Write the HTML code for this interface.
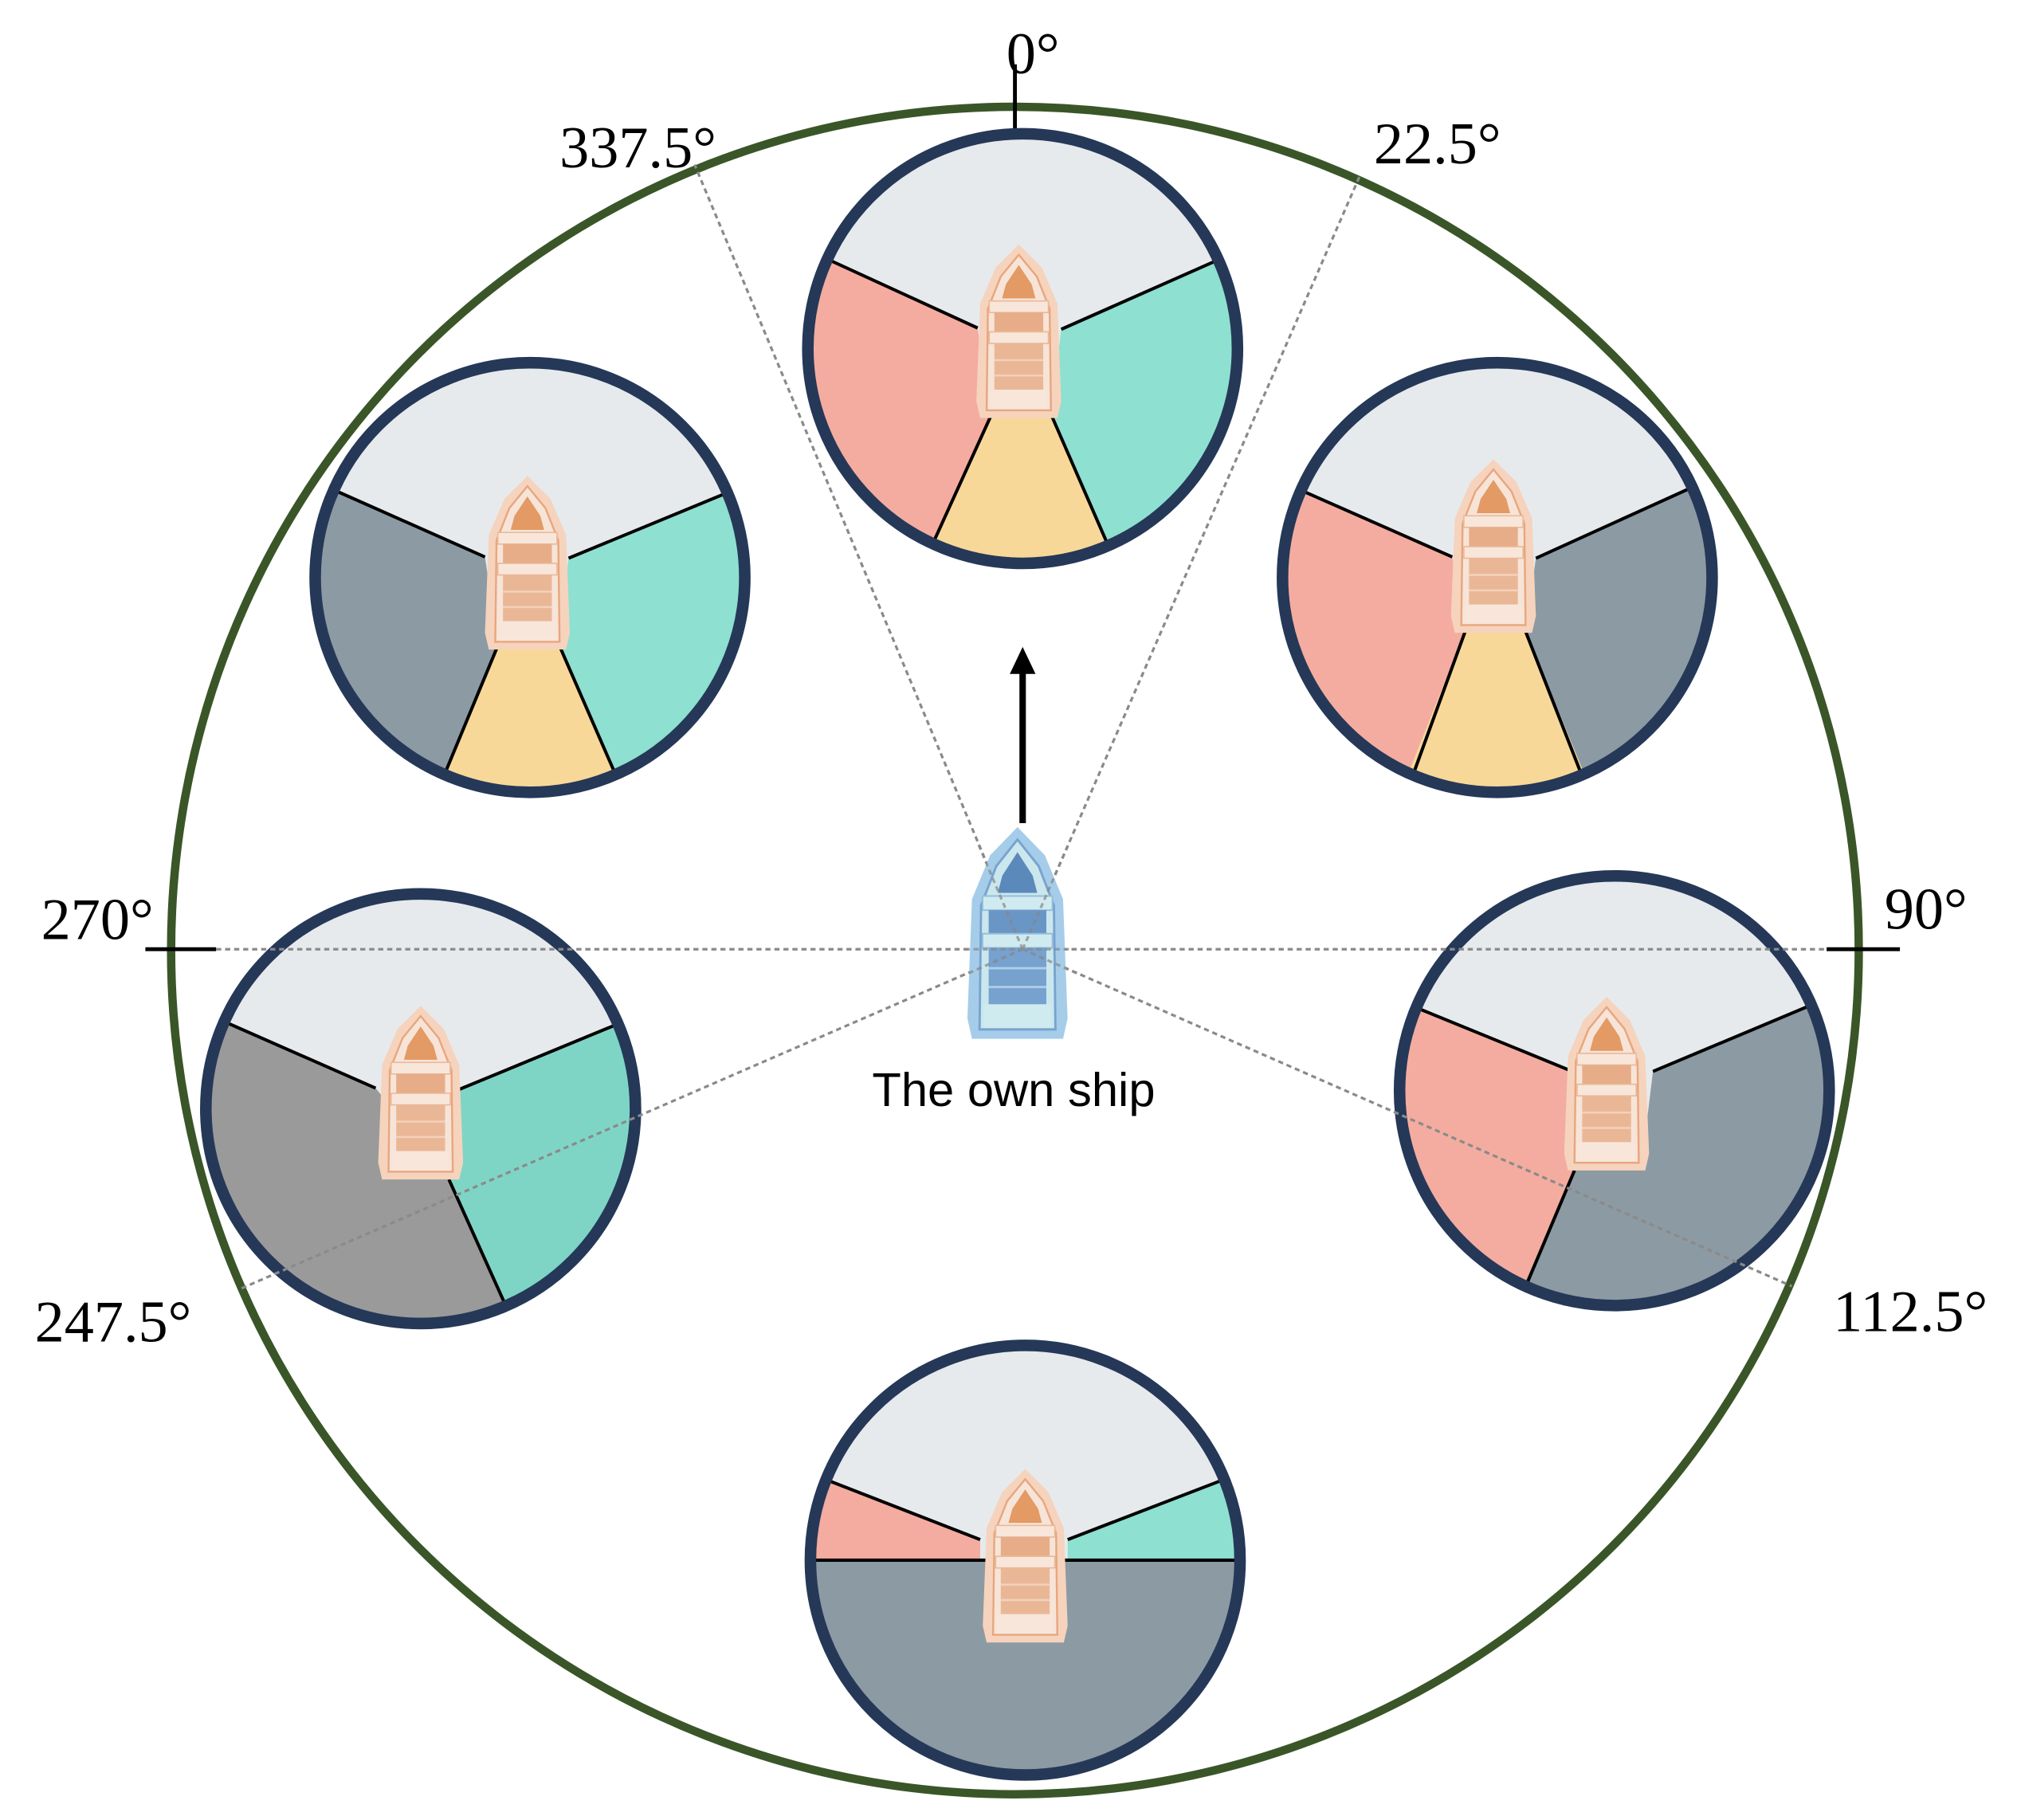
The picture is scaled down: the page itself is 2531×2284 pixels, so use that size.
<!DOCTYPE html>
<html><head><meta charset="utf-8"><style>html,body{margin:0;padding:0;background:#fff}svg{display:block}</style></head>
<body>
<svg width="2531" height="2284" viewBox="0 0 1568 1415" xmlns="http://www.w3.org/2000/svg">
<defs>
<clipPath id="cc"><circle cx="0" cy="0" r="167"/></clipPath>
<g id="boat">
<path d="M0,-82 L18,-64 L30,-36 L33,40 L30,53 L-30,53 L-33,40 L-30,-36 L-18,-64 Z" fill="#f6d3bd"/>
<path d="M0,-74 L14,-57 L24,-32 L25,47 L-25,47 L-24,-32 L-14,-57 Z" fill="#f7e4d8" stroke="#e8a67e" stroke-width="1.5"/>
<path d="M0,-66 L10,-51 L13,-40 L-13,-40 L-10,-51 Z" fill="#e39a64"/>
<rect x="-23" y="-38" width="46" height="9" fill="#f8e6da" stroke="#eab998" stroke-width="1"/>
<rect x="-19" y="-29" width="38" height="15" fill="#e7ad88"/>
<rect x="-23" y="-14" width="46" height="9" fill="#f8e6da" stroke="#eab998" stroke-width="1"/>
<rect x="-19" y="-5" width="38" height="36" fill="#eab796"/>
<line x1="-19" y1="8" x2="19" y2="8" stroke="#f3d2bc" stroke-width="1.5"/>
<line x1="-19" y1="20" x2="19" y2="20" stroke="#f3d2bc" stroke-width="1.5"/>
<rect x="-22" y="31" width="44" height="15" fill="#f8e6da"/>
</g>
<g id="bboat">
<path d="M0,-82 L18,-64 L30,-36 L33,40 L30,53 L-30,53 L-33,40 L-30,-36 L-18,-64 Z" fill="#9ec9e9"/>
<path d="M0,-74 L14,-57 L24,-32 L25,47 L-25,47 L-24,-32 L-14,-57 Z" fill="#c6e6ec" stroke="#6d9ccb" stroke-width="1.5"/>
<path d="M0,-66 L10,-51 L13,-40 L-13,-40 L-10,-51 Z" fill="#4f7fb6"/>
<rect x="-23" y="-38" width="46" height="9" fill="#cdeaef" stroke="#8db8d8" stroke-width="1"/>
<rect x="-19" y="-29" width="38" height="15" fill="#5e8ec2"/>
<rect x="-23" y="-14" width="46" height="9" fill="#cdeaef" stroke="#8db8d8" stroke-width="1"/>
<rect x="-19" y="-5" width="38" height="36" fill="#6c9acb"/>
<line x1="-19" y1="8" x2="19" y2="8" stroke="#a8cbe6" stroke-width="1.5"/>
<line x1="-19" y1="20" x2="19" y2="20" stroke="#a8cbe6" stroke-width="1.5"/>
<rect x="-22" y="31" width="44" height="15" fill="#cdeaef"/>
</g>
</defs>

<circle cx="789" cy="739" r="656" fill="none" stroke="#3a5628" stroke-width="6.5"/>
<line x1="789" y1="50" x2="789" y2="104" stroke="#000" stroke-width="3"/>
<line x1="113" y1="738" x2="168" y2="738" stroke="#000" stroke-width="3"/>
<line x1="1420" y1="738" x2="1477" y2="738" stroke="#000" stroke-width="3"/>

<!-- Circle 1 top -->
<g transform="translate(795,271)">
<g clip-path="url(#cc)">
<rect x="-200" y="-200" width="400" height="400" fill="#e6eaed"/>
<polygon points="-310,-142 -35,-16 -25,53 -140,304 -400,400 -400,-142" fill="#f4aca0"/>
<polygon points="304,-138 30,-15 22,51 132,304 400,400 400,-138" fill="#8ee0d0"/>
<polygon points="-25,53 -140,304 132,304 22,51" fill="#f8d898"/>
<g stroke="#000" stroke-width="2.5"><line x1="-35" y1="-16" x2="-155" y2="-71"/><line x1="30" y1="-15" x2="152" y2="-69"/><line x1="-25" y1="53" x2="-70" y2="152"/><line x1="22" y1="51" x2="66" y2="152"/></g>
</g>
<circle r="167" fill="none" stroke="#253858" stroke-width="9"/>
</g>

<!-- Circle 2 upper-left -->
<g transform="translate(412,449)">
<g clip-path="url(#cc)">
<rect x="-200" y="-200" width="400" height="400" fill="#e6eaed"/>
<polygon points="-300,-134 -35,-16 -25,53 -132,304 -400,400 -400,-134" fill="#8c9aa3"/>
<polygon points="312,-134 30,-15 22,51 132,304 400,400 400,-134" fill="#8ee0d0"/>
<polygon points="-25,53 -132,304 132,304 22,51" fill="#f8d898"/>
<g stroke="#000" stroke-width="2.5"><line x1="-35" y1="-16" x2="-150" y2="-67"/><line x1="30" y1="-15" x2="156" y2="-67"/><line x1="-25" y1="53" x2="-66" y2="152"/><line x1="22" y1="51" x2="66" y2="152"/></g>
</g>
<circle r="167" fill="none" stroke="#253858" stroke-width="9"/>
</g>

<!-- Circle 3 upper-right -->
<g transform="translate(1164,449)">
<g clip-path="url(#cc)">
<rect x="-200" y="-200" width="400" height="400" fill="#e6eaed"/>
<polygon points="-306,-136 -35,-16 -25,42 -130,304 -400,400 -400,-136" fill="#f4aca0"/>
<polygon points="298,-138 30,-15 22,42 130,304 400,400 400,-138" fill="#8c9aa3"/>
<polygon points="-25,42 -130,304 130,304 22,42" fill="#f8d898"/>
<g stroke="#000" stroke-width="2.5"><line x1="-35" y1="-16" x2="-153" y2="-68"/><line x1="30" y1="-15" x2="149" y2="-69"/><line x1="-25" y1="42" x2="-65" y2="152"/><line x1="22" y1="42" x2="65" y2="152"/></g>
</g>
<circle r="167" fill="none" stroke="#253858" stroke-width="9"/>
</g>

<!-- Circle 4 left -->
<g transform="translate(327,862)">
<g clip-path="url(#cc)">
<rect x="-200" y="-200" width="400" height="400" fill="#e6eaed"/>
<polygon points="-302,-134 -35,-16 22,55 134,310 -400,400 -400,-134" fill="#9a9a9a"/>
<polygon points="312,-134 30,-15 22,55 134,310 400,400 400,-134" fill="#7fd5c5"/>
<g stroke="#000" stroke-width="2.5"><line x1="-35" y1="-16" x2="-151" y2="-67"/><line x1="30" y1="-15" x2="156" y2="-67"/><line x1="22" y1="55" x2="67" y2="155"/></g>
</g>
<circle r="167" fill="none" stroke="#253858" stroke-width="9"/>
</g>

<!-- Circle 5 right -->
<g transform="translate(1255,848)">
<g clip-path="url(#cc)">
<rect x="-200" y="-200" width="400" height="400" fill="#e6eaed"/>
<polygon points="-310,-130 -35,-16 -31,62 -136,300 -400,400 -400,-130" fill="#f4aca0"/>
<polygon points="308,-134 30,-15 22,51 -31,62 -136,300 -136,400 400,400 400,-134" fill="#8c9aa3"/>
<g stroke="#000" stroke-width="2.5"><line x1="-35" y1="-16" x2="-155" y2="-65"/><line x1="30" y1="-15" x2="154" y2="-67"/><line x1="-31" y1="62" x2="-68" y2="150"/></g>
</g>
<circle r="167" fill="none" stroke="#253858" stroke-width="9"/>
</g>

<!-- Circle 6 bottom -->
<g transform="translate(797,1213)">
<g clip-path="url(#cc)">
<rect x="-200" y="-200" width="400" height="400" fill="#e6eaed"/>
<rect x="-200" y="0" width="400" height="200" fill="#8c9aa3"/>
<polygon points="-322,-130 -35,-16 -35,0 -400,0 -400,-130" fill="#f4aca0"/>
<polygon points="326,-132 33,-16 33,0 400,0 400,-132" fill="#8ee0d0"/>
<g stroke="#000" stroke-width="2.5"><line x1="-35" y1="-16" x2="-161" y2="-65"/><line x1="33" y1="-16" x2="163" y2="-66"/><line x1="-170" y1="0" x2="170" y2="0"/></g>
</g>
<circle r="167" fill="none" stroke="#253858" stroke-width="9"/>
</g>

<!-- dashed lines -->
<g stroke="#8a8a8a" stroke-width="2" stroke-dasharray="4,3" fill="none">
<line x1="795" y1="738" x2="540" y2="128"/>
<line x1="795" y1="738" x2="1057" y2="137"/>
<line x1="168" y1="738" x2="1420" y2="738"/>
<line x1="795" y1="738" x2="187" y2="1002"/>
<line x1="795" y1="738" x2="1393" y2="1000"/>
</g>

<!-- boats -->
<use href="#boat" transform="translate(792,272)"/>
<use href="#boat" transform="translate(410,452)"/>
<use href="#boat" transform="translate(1161,439)"/>
<use href="#boat" transform="translate(327,864)"/>
<use href="#boat" transform="translate(1249,857)"/>
<use href="#boat" transform="translate(797,1224)"/>
<g opacity="0.92"><use href="#bboat" transform="translate(791,743) scale(1.18,1.22)"/></g>
<g stroke="#8a8a8a" stroke-width="2" stroke-dasharray="4,3" fill="none" opacity="0.7">
<line x1="795" y1="738" x2="760" y2="655"/><line x1="795" y1="738" x2="830" y2="658"/>
<line x1="750" y1="738" x2="835" y2="738"/><line x1="795" y1="738" x2="750" y2="758"/><line x1="795" y1="738" x2="840" y2="758"/>
</g>

<!-- arrow -->
<line x1="795" y1="640" x2="795" y2="520" stroke="#000" stroke-width="5"/>
<polygon points="795,503 785,524 805,524" fill="#000"/>

<g font-family="'Liberation Serif', serif" font-size="46" fill="#000">
<text x="803" y="57" text-anchor="middle">0°</text>
<text x="435" y="130">337.5°</text>
<text x="1068" y="127">22.5°</text>
<text x="32" y="730">270°</text>
<text x="1465" y="722">90°</text>
<text x="27" y="1043">247.5°</text>
<text x="1425" y="1035">112.5°</text>
</g>
<text x="788" y="860" text-anchor="middle" font-family="'Liberation Sans', sans-serif" font-size="37" fill="#000">The own ship</text>
</svg>
</body></html>
